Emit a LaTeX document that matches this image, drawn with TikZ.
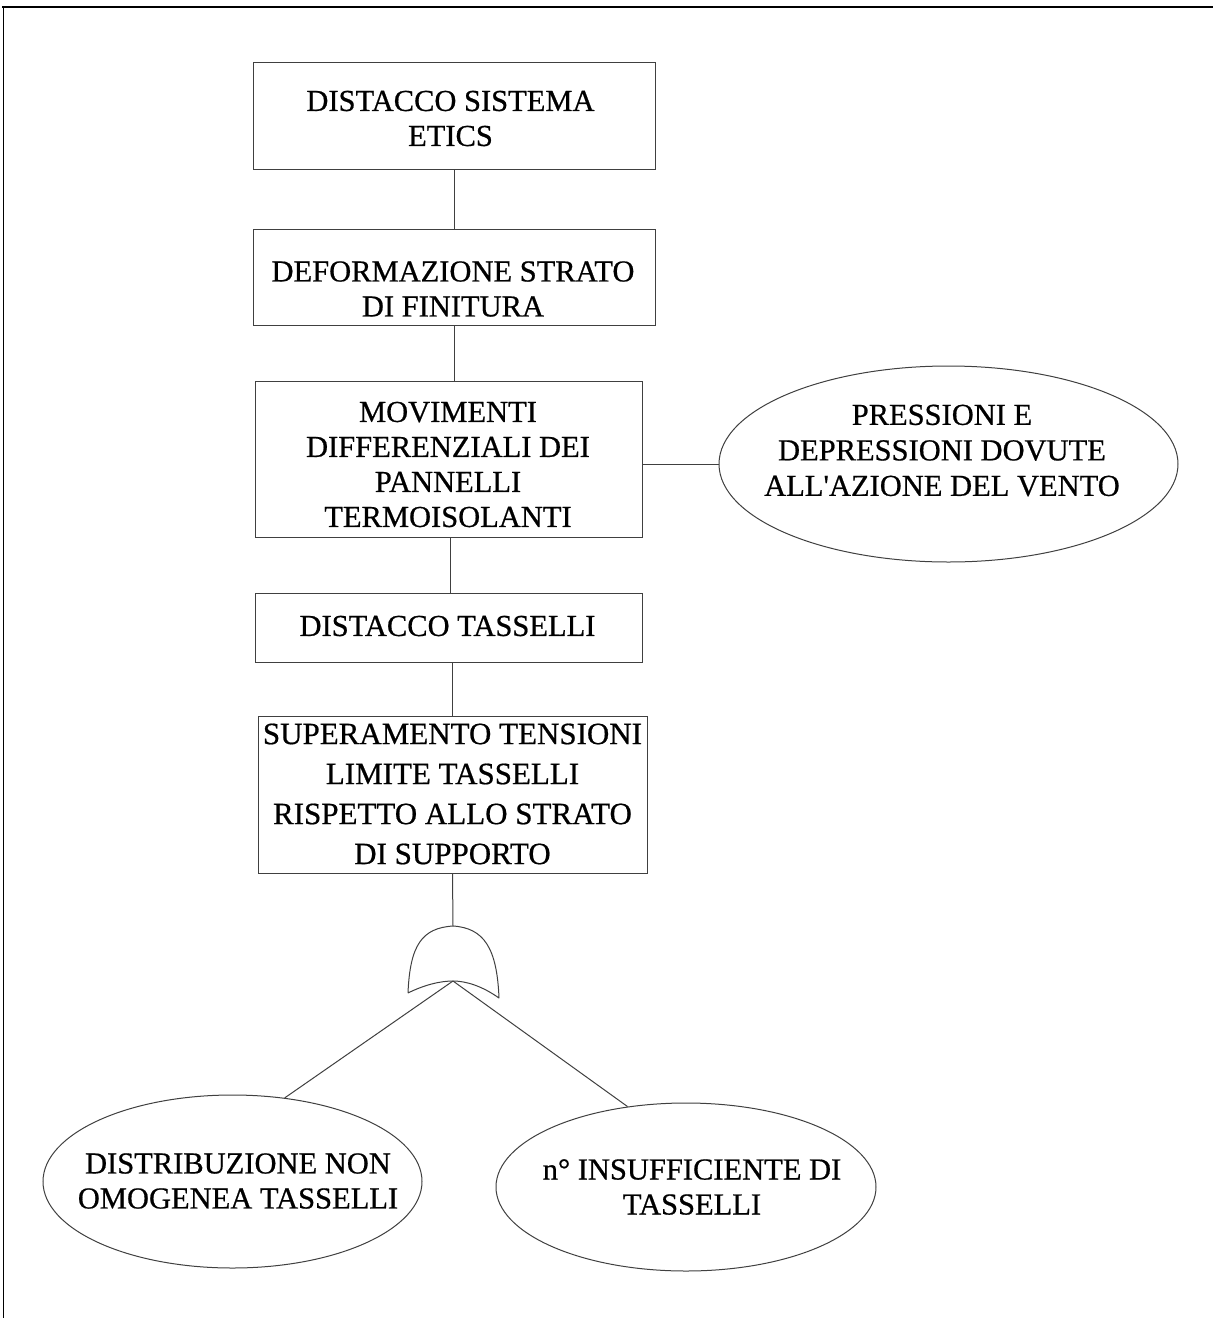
\documentclass[tikz,border=0pt]{standalone}
\usepackage{fontspec}
\setmainfont[FakeBold=0.6]{Liberation Serif}
\usetikzlibrary{shapes.geometric}

\tikzset{
  edge/.style={draw=black!75, line width=1pt},
  stepbox/.style={edge, rectangle, inner sep=0pt},
  eventoval/.style={edge, ellipse, inner sep=0pt},
  caption/.style={inner sep=0pt, align=center, text=black,
                  font=\fontsize{30.5}{35}\selectfont},
  frame/.style={draw=black, line cap=rect},
}

\begin{document}
\begin{tikzpicture}[x=1pt, y=-1pt]
  \useasboundingbox (0,0) rectangle (1213,1318);
  \fill[white] (0,0) rectangle (1213,1318);

  % page frame: top rule and left rule only
  \draw[frame, line width=2.8pt] (3.5,7) -- (1213,7);
  \draw[frame, line width=1.5pt] (3.5,7) -- (3.5,1318);

  % event boxes
  \node[stepbox, minimum width=402pt, minimum height=107pt] (b1) at (454,115.5) {};
  \node[stepbox, minimum width=402pt, minimum height=96pt]  (b2) at (454,277) {};
  \node[stepbox, minimum width=387pt, minimum height=156pt] (b3) at (448.5,459) {};
  \node[stepbox, minimum width=387pt, minimum height=69pt]  (b4) at (448.5,627.5) {};
  \node[stepbox, minimum width=389pt, minimum height=157pt] (b5) at (452.5,794.5) {};

  \node[caption] (t1) at (450.5,118.5) {DISTACCO SISTEMA\\ETICS};
  \node[caption] (t2) at (453,289) {DEFORMAZIONE STRATO\\DI FINITURA};
  \node[caption] (t3) at (448,464.5) {MOVIMENTI\\DIFFERENZIALI DEI\\PANNELLI\\TERMOISOLANTI};
  \node[caption] (t4) at (447.5,626) {DISTACCO TASSELLI};
  \node[caption, font=\fontsize{31}{40}\selectfont] (t5) at (452.5,794) {SUPERAMENTO TENSIONI\\LIMITE TASSELLI\\RISPETTO ALLO STRATO\\DI SUPPORTO};

  % basic events
  \node[eventoval, minimum width=459pt, minimum height=196pt] (be) at (948.5,464) {};
  \node[eventoval, minimum width=379pt, minimum height=173pt] (le) at (232.5,1181.5) {};
  \node[eventoval, minimum width=380pt, minimum height=168pt] (re) at (686,1187) {};

  \node[caption, font=\fontsize{30.5}{35.5}\selectfont] (t6) at (942,450.5) {PRESSIONI E\\DEPRESSIONI DOVUTE\\ALL\textquotesingle AZIONE DEL VENTO};
  \node[caption] (t7) at (238,1181) {DISTRIBUZIONE NON\\OMOGENEA TASSELLI};
  \node[caption] (t8) at (692,1187) {n° INSUFFICIENTE DI\\TASSELLI};

  % OR gate
  \coordinate (gtop) at (453,926);
  \coordinate (gout) at (453,981);
  \draw[edge, line join=round]
    (408,993) .. controls (410,945) and (422,928) .. (gtop)
    .. controls (484,928) and (497,948) .. (499,998)
    .. controls (482,986) and (466,981) .. (gout)
    .. controls (440,981) and (424,985) .. (408,993);

  % connectors
  \draw[edge] (b1.south) -- (b2.north);
  \draw[edge] (b2.south) -- (b2.south |- b3.north);
  \draw[edge] (450,0 |- b3.south) -- (450,0 |- b4.north);
  \draw[edge] (b5.north |- b4.south) -- (b5.north);
  \draw[edge] (b5.south) -- (gtop);
  \draw[edge] (b3.east |- be.west) -- (be.west);
  \draw[edge] (gout) -- (le.58);
  \draw[edge] (gout) -- (re.126);
\end{tikzpicture}
\end{document}
